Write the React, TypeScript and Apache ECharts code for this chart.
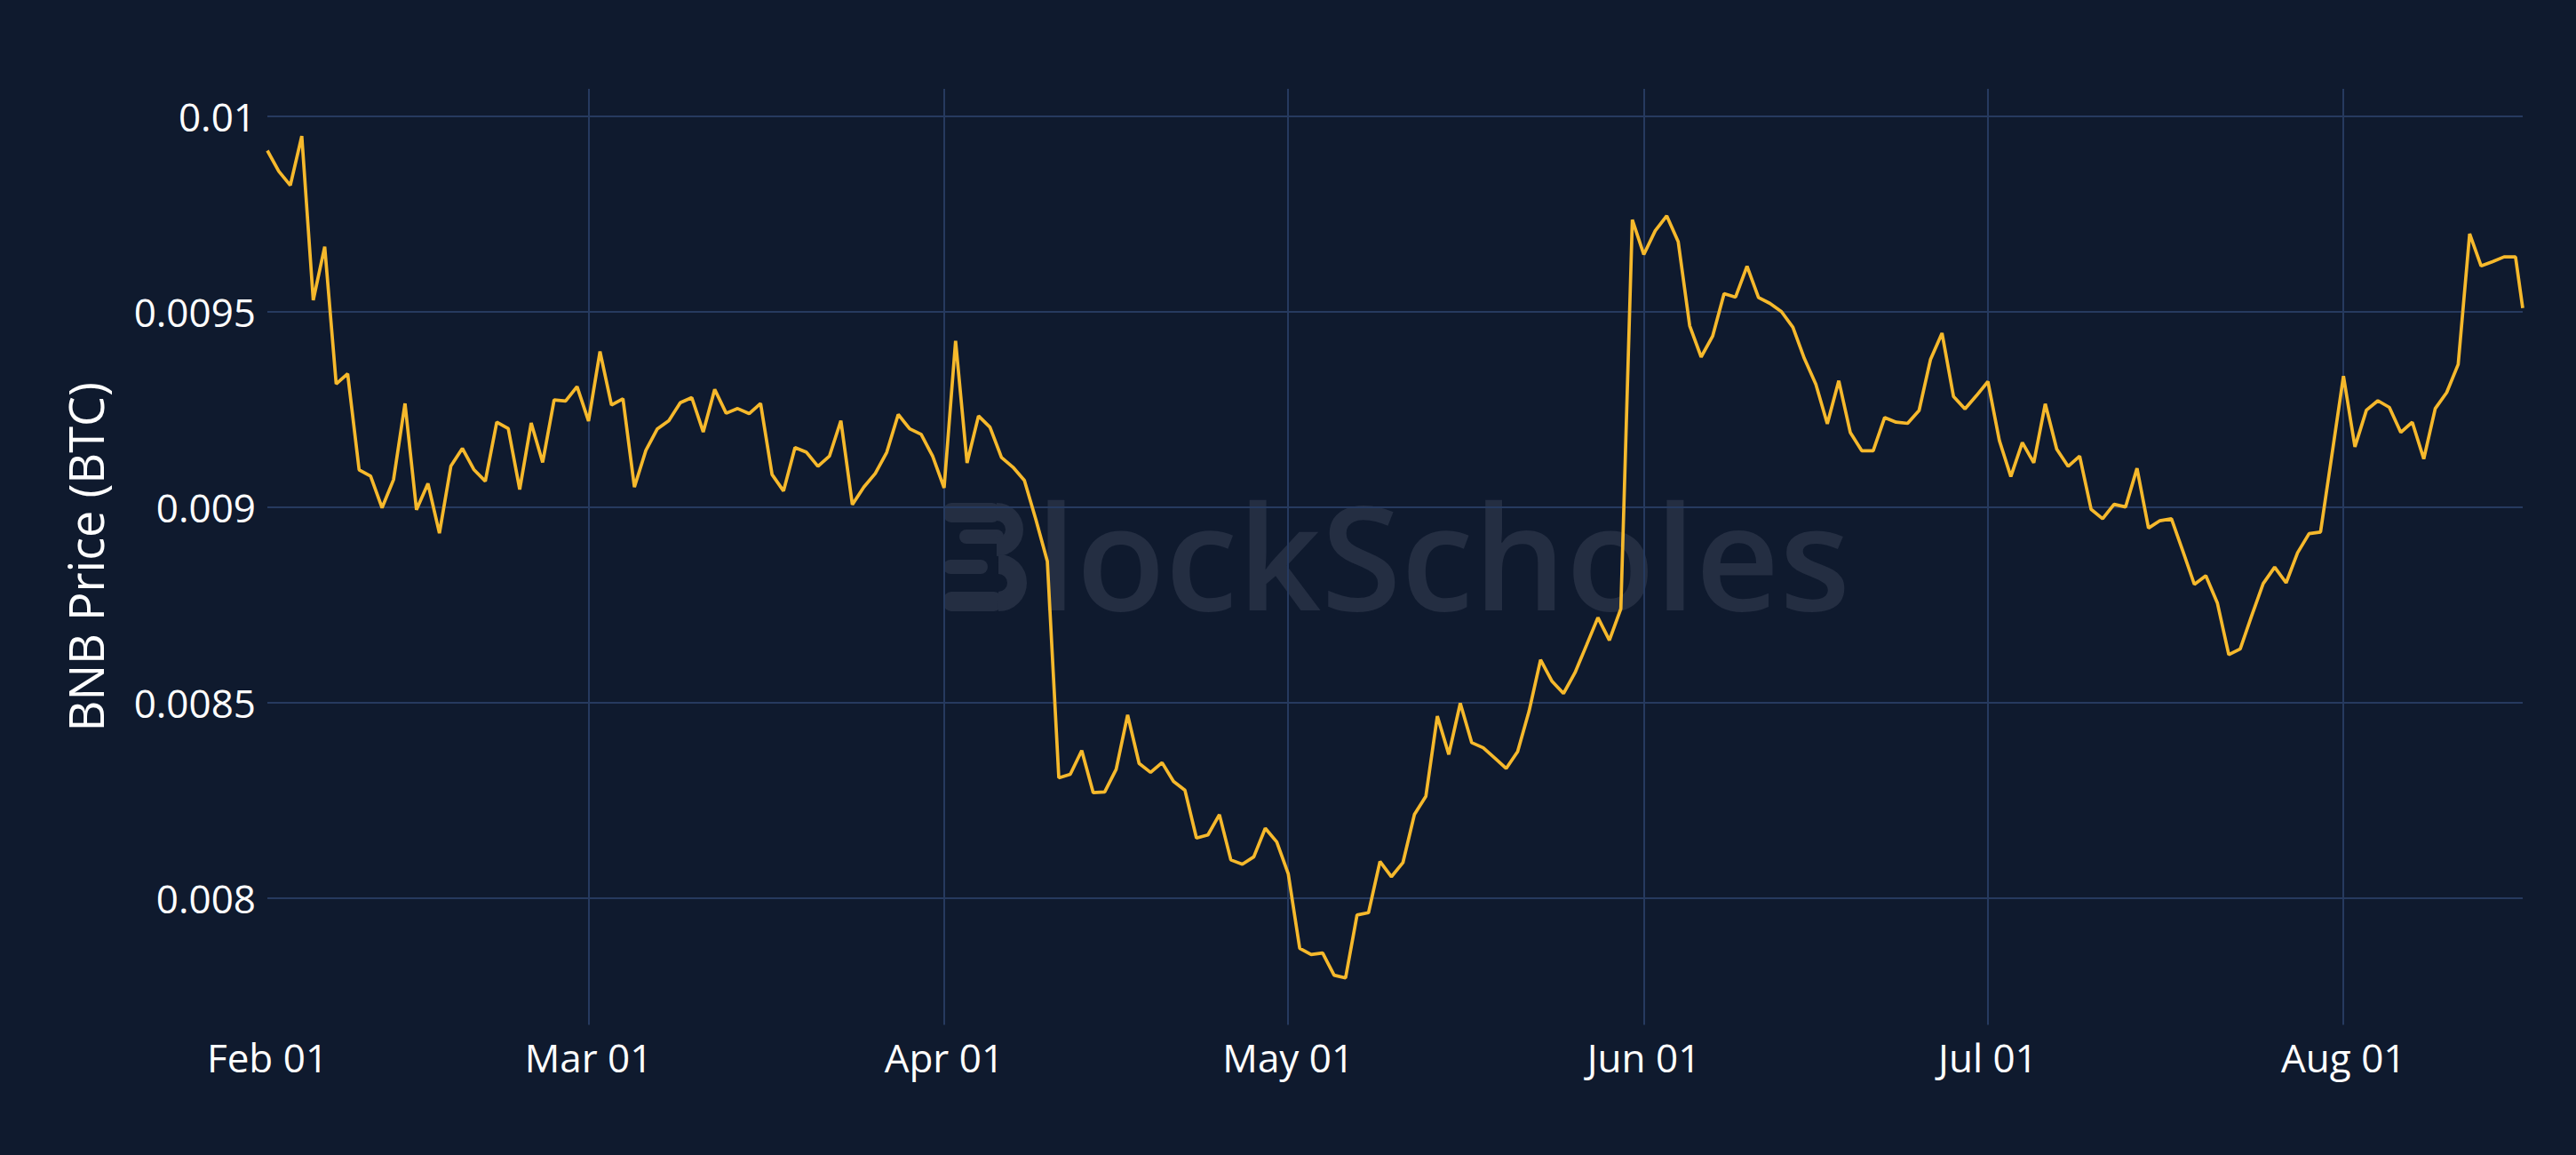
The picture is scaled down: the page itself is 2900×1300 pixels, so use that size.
import React, { useEffect, useRef } from 'react';
import * as echarts from 'echarts';

// ---- data ----
const startDate = '2022-02-01T00:00:00Z';
const lastTimestamp = '2022-08-16T15:00:00Z';

const febValues = [
  0.009912, 0.009859, 0.009823, 0.009949, 0.009529, 0.009666, 0.009315, 0.009341,
  0.009095, 0.009079, 0.008998, 0.00907, 0.009265, 0.008993, 0.00906, 0.008933,
  0.009105, 0.00915, 0.009096, 0.009066, 0.009217, 0.009201, 0.009045, 0.009215,
  0.009114, 0.009274, 0.009271, 0.009308,
];
const marValues = [
  0.00922, 0.009398, 0.009261, 0.009277, 0.009051, 0.009145, 0.0092, 0.009221,
  0.009267, 0.00928, 0.009192, 0.009301, 0.00924, 0.009252, 0.009239, 0.009265,
  0.009083, 0.009041, 0.009152, 0.00914, 0.009104, 0.00913, 0.009221, 0.009006,
  0.009051, 0.009086, 0.00914, 0.009237, 0.0092, 0.009186, 0.00913,
];
const aprValues = [
  0.009049, 0.009425, 0.009113, 0.009233, 0.009204, 0.009127, 0.009102, 0.009068,
  0.008968, 0.008861, 0.008307, 0.008316, 0.008377, 0.008269, 0.008271, 0.008329,
  0.008468, 0.008344, 0.008321, 0.008346, 0.008298, 0.008275, 0.008153, 0.008161,
  0.008213, 0.008097, 0.008086, 0.008105, 0.008178, 0.008143,
];
const mayValues = [
  0.008062, 0.007871, 0.007855, 0.007859, 0.007802, 0.007795, 0.007956, 0.007962,
  0.008093, 0.008054, 0.00809, 0.008213, 0.00826, 0.008465, 0.008367, 0.008498,
  0.008397, 0.008384, 0.008358, 0.008331, 0.008374, 0.008478, 0.008609, 0.008554,
  0.008523, 0.008576, 0.008646, 0.008717, 0.008659, 0.00874, 0.009735,
];
const junValues = [
  0.009646, 0.009707, 0.009745, 0.009679, 0.009464, 0.009384, 0.009437, 0.009546,
  0.009537, 0.009616, 0.009536, 0.009521, 0.0095, 0.00946, 0.00938, 0.009314,
  0.009213, 0.009323, 0.009191, 0.009144, 0.009144, 0.009229, 0.009217, 0.009214,
  0.009247, 0.009378, 0.009445, 0.009283, 0.009251, 0.009285,
];
const julValues = [
  0.009321, 0.00917, 0.009078, 0.009165, 0.009113, 0.009264, 0.009148, 0.009104,
  0.00913, 0.008994, 0.00897, 0.009007, 0.009, 0.009099, 0.008946, 0.008965,
  0.00897, 0.008887, 0.008802, 0.008824, 0.008755, 0.008622, 0.008637, 0.008722,
  0.008804, 0.008846, 0.008806, 0.008883, 0.008932, 0.008936, 0.009135,
];
const augValues = [
  0.009335, 0.009154, 0.009248, 0.009272, 0.009255, 0.009191, 0.009217, 0.009123,
  0.009252, 0.009293, 0.009365, 0.009699, 0.009617, 0.009628, 0.00964, 0.00964,
];
const lastValue = 0.009509;

const monthTicks = [
  '2022-02-01T00:00:00Z', '2022-03-01T00:00:00Z', '2022-04-01T00:00:00Z',
  '2022-05-01T00:00:00Z', '2022-06-01T00:00:00Z', '2022-07-01T00:00:00Z',
  '2022-08-01T00:00:00Z',
];
const monthLabels = ['Feb 01', 'Mar 01', 'Apr 01', 'May 01', 'Jun 01', 'Jul 01', 'Aug 01'];
const yTicks = [0.008, 0.0085, 0.009, 0.0095, 0.01];
const yTickLabels = ['0.008', '0.0085', '0.009', '0.0095', '0.01'];
const yRange = [0.007675, 0.01007];

const yTitle = 'BNB Price (BTC)';
const watermarkText = 'lockScholes';

const DAY = 86400000;

export default function App() {
  const ref = useRef<HTMLDivElement>(null);

  useEffect(() => {
    document.body.style.margin = '0';
    document.body.style.background = '#0f1a2e';
    if (!ref.current) return;
    const chart = echarts.init(ref.current, undefined, { renderer: 'svg' });

    const startTs = Date.parse(startDate);
    const lastTs = Date.parse(lastTimestamp);
    const daily = [
      ...febValues, ...marValues, ...aprValues, ...mayValues,
      ...junValues, ...julValues, ...augValues,
    ];
    const data: [number, number][] = daily.map((v, i) => [startTs + i * DAY, v]);
    data.push([lastTs, lastValue]);

    const monthTs = monthTicks.map((d) => Date.parse(d));
    const gridColor = '#263a5f';
    const wm = '#242e42';

    const option: any = {
      animation: false,
      backgroundColor: '#0f1a2e',
      textStyle: { fontFamily: 'Open Sans' },
      grid: { left: 301, right: 60, top: 100, bottom: 146.5, containLabel: false },
      xAxis: {
        type: 'value',
        min: startTs,
        max: lastTs,
        axisLine: { show: false },
        axisTick: { show: false, customValues: monthTs },
        axisLabel: {
          customValues: monthTs,
          color: '#ffffff',
          fontSize: 44,
          fontFamily: 'Open Sans',
          margin: 14,
          formatter: (v: number) => {
            const idx = monthTs.findIndex((t) => Math.abs(t - v) < DAY / 2);
            return idx >= 0 ? monthLabels[idx] : '';
          },
        },
        splitLine: {
          show: true,
          showMinLine: false,
          showMaxLine: true,
          lineStyle: { color: gridColor, width: 2 },
        },
      },
      yAxis: {
        type: 'value',
        min: yRange[0],
        max: yRange[1],
        minInterval: 0.0005,
        maxInterval: 0.0005,
        name: yTitle,
        nameLocation: 'middle',
        nameRotate: 90,
        nameGap: 178,
        nameTextStyle: { color: '#ffffff', fontSize: 54, fontFamily: 'Open Sans' },
        axisLine: { show: false },
        axisTick: { show: false, customValues: yTicks },
        axisLabel: {
          customValues: yTicks,
          color: '#ffffff',
          fontSize: 44,
          fontFamily: 'Open Sans',
          margin: 13,
          formatter: (v: number) => {
            const idx = yTicks.findIndex((t) => Math.abs(t - v) < 1e-7);
            return idx >= 0 ? yTickLabels[idx] : '';
          },
        },
        splitLine: {
          show: true,
          showMinLine: true,
          showMaxLine: true,
          lineStyle: { color: gridColor, width: 2 },
        },
      },
      series: [
        {
          type: 'line',
          data,
          symbol: 'none',
          showSymbol: false,
          z: 5,
          lineStyle: { color: '#f6b92c', width: 3.7 },
          itemStyle: { color: '#f6b92c' },
        },
      ],
      graphic: [
        {
          type: 'group',
          x: 1062,
          y: 566,
          z: -10,
          silent: true,
          children: [
            { type: 'rect', z: -10, shape: { x: 0, y: 0, width: 64, height: 22, r: 9 }, style: { fill: wm } },
            { type: 'rect', z: -10, shape: { x: 18, y: 30, width: 50, height: 16, r: 8 }, style: { fill: wm } },
            { type: 'rect', z: -10, shape: { x: 0, y: 64, width: 50, height: 16, r: 8 }, style: { fill: wm } },
            { type: 'rect', z: -10, shape: { x: 0, y: 100, width: 66, height: 22, r: 9 }, style: { fill: wm } },
            {
              type: 'arc', z: -10,
              shape: { cx: 60, cy: 30, r: 20, startAngle: -Math.PI / 2, endAngle: Math.PI / 2, clockwise: true },
              style: { stroke: wm, lineWidth: 20, fill: 'none' },
            },
            {
              type: 'arc', z: -10,
              shape: { cx: 62, cy: 90, r: 21, startAngle: -Math.PI / 2, endAngle: Math.PI / 2, clockwise: true },
              style: { stroke: wm, lineWidth: 22, fill: 'none' },
            },
          ],
        },
        {
          type: 'text',
          x: 1166,
          y: 623,
          z: -10,
          silent: true,
          style: {
            text: watermarkText,
            fill: wm,
            fontSize: 164,
            fontWeight: 600,
            fontFamily: 'Open Sans',
            verticalAlign: 'middle',
            align: 'left',
          },
        },
      ],
    };

    chart.setOption(option);
    return () => {
      chart.dispose();
    };
  }, []);

  return <div ref={ref} style={{ width: 2900, height: 1300 }} />;
}
